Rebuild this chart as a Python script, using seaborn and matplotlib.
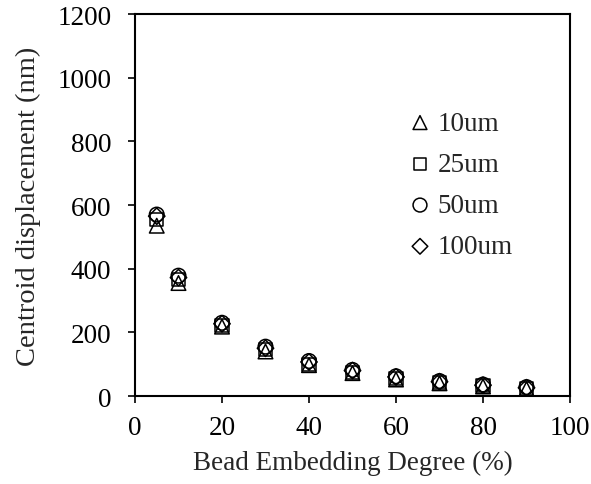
import matplotlib
matplotlib.use("Agg")
import matplotlib.pyplot as plt
import seaborn as sns
import pandas as pd

embedding = [5, 10, 20, 30, 40, 50, 60, 70, 80, 90]
d10 = [535, 355, 218, 140, 97, 72, 52, 40, 30, 22]
d25 = [555, 365, 222, 145, 100, 75, 55, 42, 32, 24]
d50 = [570, 378, 230, 155, 110, 82, 62, 47, 36, 28]
d100 = [565, 372, 227, 150, 107, 80, 60, 45, 34, 26]
labels = ["10um", "25um", "50um", "100um"]
markers = {"10um": "^", "25um": "s", "50um": "o", "100um": "D"}
sizes = {"10um": 110, "25um": 90, "50um": 110, "100um": 70}

rows = []
for lab, vals in zip(labels, [d10, d25, d50, d100]):
    for x, y in zip(embedding, vals):
        rows.append({"x": x, "y": y, "size": lab})
df = pd.DataFrame(rows)

sns.set_style("ticks")
plt.rcParams['font.family'] = ['Liberation Serif', 'DejaVu Serif']

fig = plt.figure(figsize=(5.91, 4.85), dpi=100)
ax = fig.add_axes([0.2284, 0.1814, 0.7361, 0.7876])

for lab in labels:
    sub = df[df["size"] == lab]
    sns.scatterplot(data=sub, x="x", y="y", marker=markers[lab], s=sizes[lab],
                    facecolor="none", edgecolor="black", linewidth=1.1, ax=ax, label=lab)

ax.set_xlim(0, 100)
ax.set_ylim(0, 1200)
ax.set_xticks([0, 20, 40, 60, 80, 100])
ax.set_yticks([0, 200, 400, 600, 800, 1000, 1200])
ax.tick_params(direction="out", length=5, width=1.2, labelsize=19.5, colors="black")
ax.tick_params(axis="y", pad=12)
ax.tick_params(axis="x", pad=9)
for sp in ax.spines.values():
    sp.set_visible(True)
    sp.set_linewidth(1.5)
    sp.set_color("black")
ax.set_xlabel("Bead Embedding Degree (%)", fontsize=19.5, labelpad=7)
ax.set_ylabel("Centroid displacement (nm)", fontsize=20.5, labelpad=12)

handles, lbls = ax.get_legend_handles_labels()
leg = ax.legend(handles, lbls, loc="upper left", bbox_to_anchor=(0.624, 0.747), frameon=False,
                fontsize=19.5, handlelength=1.0, handletextpad=0.15, labelspacing=0.6,
                borderpad=0, borderaxespad=0, markerscale=0.95)
for h in leg.legend_handles:
    h.set_facecolor("none")
    h.set_edgecolor("black")

fig.savefig("out.png", dpi=100)
